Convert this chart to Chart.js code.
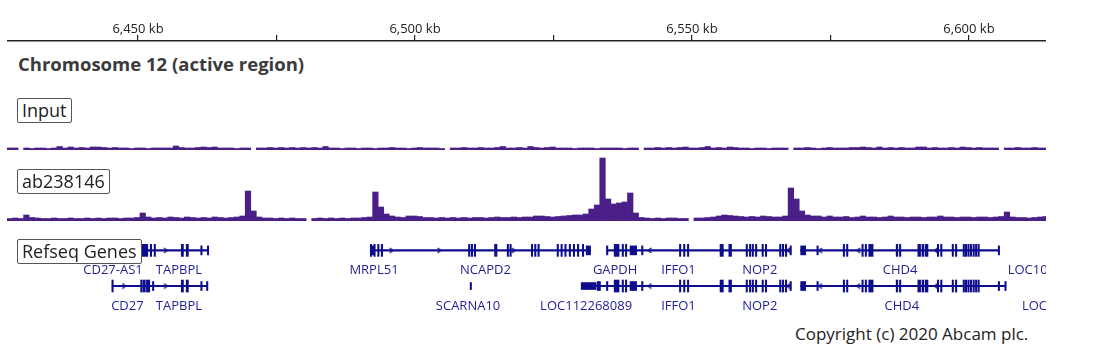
<!DOCTYPE html>
<html>
<head>
<meta charset="utf-8">
<script src="https://cdn.jsdelivr.net/npm/chart.js@4.4.1/dist/chart.umd.min.js"></script>
<style>
  body { margin: 0; background: #fff; }
  #page { position: relative; width: 1093px; height: 361px; overflow: hidden; font-family: "Open Sans", sans-serif; }
  canvas { position: absolute; left: 7px; }
  .title { position: absolute; left: 18px; top: 51px; font-weight: bold; font-size: 18.5px; color: #3b3b3b; }
  .tag { position: absolute; left: 17px; z-index: 2; background: #fff; border: 1px solid #555; border-radius: 2px;
         font-size: 18px; line-height: 23px; color: #222; padding: 0 4px; }
  .copy { position: absolute; left: 795px; top: 322px; font-size: 17px; color: #222; }
</style>
</head>
<body>
<div id="page">
  <canvas id="axis" width="1039" height="48" style="top:0"></canvas>
  <div class="title">Chromosome 12 (active region)</div>
  <div class="tag" style="top:98px">Input</div>
  <canvas id="inputTrack" width="1039" height="25" style="top:125px"></canvas>
  <div class="tag" style="top:169px">ab238146</div>
  <canvas id="abTrack" width="1039" height="71" style="top:150px"></canvas>
  <div class="tag" style="top:239px">Refseq Genes</div>
  <canvas id="genes" width="1039" height="92" style="top:228px"></canvas>
  <div class="copy">Copyright (c) 2020 Abcam plc.</div>
</div>
<script>
// visible window, kb
const xMin = 6426.35, xMax = 6613.9;
const tickValues = [6450, 6475, 6500, 6525, 6550, 6575, 6600];
const tickLabels = ['6,450 kb', '', '6,500 kb', '', '6,550 kb', '', '6,600 kb'];

// coverage, fixed step bins of 1 kb from binStart (null = no data)
const binStart = 6426.35, binSize = 1;
const inputSignal = [
  2, 2, null, 2, 1.5, 2, 2, 1.5, 2, 3.5,
  2, 3, 2, 2.5, 2, 3, 3, 2.5, 2, 2.5,
  2, 2, 1.5, 2, 2, 1.5, 2, 2, 2, 2,
  4, 2.5, 2, 2, 2.5, 3, 2.5, 3, 2, 2,
  2, 1.5, 2, 2, null, 2, 2, 2.5, 2, 2.5,
  2, 2.5, 2, 2.5, 2, 2.5, 2, 3.5, 2, 2,
  1.5, 2, 2, 1.5, 2, 2, 1.5, 2, 2, 2.5,
  2, 2, 1.5, 2, 2.5, 2, 2, 2, 1.5, null,
  2, 2, 2.5, 2, 2, 2.5, 2, 2, 2.5, 3.5,
  2, 2, 2.5, 2, 3.5, 2.5, 2, 2.5, 3, 2,
  2, 2, 1.5, 2, 2, 2, 1.5, 2, 2, 2,
  2, 1.5, 2, 2, null, 2, 2, 2.5, 2, 2.5,
  2, 2.5, 3, 2, 2, 2.5, 3.5, 2, 2.5, 2,
  3, 2.5, 2, 2, 1.5, 2, 2, 1.5, 2, 2,
  2, null, 2, 2, 2.5, 2, 1.5, 2, 2.5, 2,
  2, 2, 2.5, 2.5, 3, 2.5, 2, 3, 2, 2.5,
  2, 2.5, 2, 2, 3, 3, 2, 2.5, 2, 2,
  2.5, 2, 3, 2.5, 2, 2.5, 2, 2, 2, null,
  2, 2, 2.5, 2, 2, 2.5, 2, 2
];
const abSignal = [
  2.5, 3, 2.5, 6, 3.5, 3, 2.5, 2.5, 3, 2.5,
  2.5, 3, 2.5, 2.5, 3, 2.5, 3, 2.5, 3, 3,
  2.5, 3, 3, 3.5, 8, 4, 3, 3.5, 3, 4,
  3.5, 3, 4, 3.5, 3, 3.5, 3, 4, 3.5, 3,
  3.5, 4, 5, 30, 10, 4, 3, 3, 2.5, 3,
  2.5, 3, 2.5, 2.5, null, 2.5, 3, 2.5, 3, 2.5,
  3, 2.5, 3, 3, 3.5, 4, 29, 14, 7, 5,
  4, 3.5, 5, 5, 4.5, 3.5, 3.5, 3, 3.5, 3,
  3.5, 3, 3.5, 3, 3.5, 3.5, 3, 3.5, 4, 3.5,
  3.5, 4, 3.5, 4, 4, 5, 5, 4.5, 4, 4.5,
  5, 5.5, 6, 6, 7, 12, 16, 63, 22, 17,
  18, 19, 28, 8, 3.5, 3, 2.5, 3, 2.5, 3,
  3, 2.5, 2.5, null, 3, 3, 3.5, 4, 5, 6,
  5.5, 5, 4.5, 4, 4.5, 4, 5, 4.5, 4, 4,
  5, 33, 22, 10, 6, 5, 5, 4, 5, 4,
  4, 4.5, 3.5, 4, 5, 4, 4, 3.5, 4, 5,
  4, 4, 3.5, 4, 4, 3.5, 4, 4, 5, 4,
  4, 3.5, 4, 4, 3.5, 4, 4, 3.5, 4, 4.5,
  9, 4, 3.5, 3.5, 3, 3.5, 4, 4.5
];

// Refseq genes: [row, start kb, end kb]
const geneSpans = [
  [0, 6442.2, 6451.4], [0, 6451.4, 6462.1], [0, 6491.7, 6493.9], [0, 6493.7, 6531.8],
  [0, 6534.8, 6541.2], [0, 6541.2, 6555.4], [0, 6555.4, 6568.3], [0, 6570.1, 6606.2],
  [1, 6444.6, 6451.4], [1, 6451.4, 6461.9], [1, 6530.1, 6541.2], [1, 6541.2, 6555.4],
  [1, 6555.4, 6568.3], [1, 6570.1, 6607.4]
];
const tallExons = [
  [0, 6450.0, 6451.1], [0, 6451.55, 6451.7], [0, 6452.25, 6452.4], [0, 6457.2, 6457.6], [0, 6458.1, 6458.5],
  [0, 6491.65, 6491.85], [0, 6492.3, 6492.45], [0, 6493.0, 6493.2], [0, 6493.65, 6493.85],
  [0, 6509.55, 6509.75], [0, 6510.05, 6510.25], [0, 6510.6, 6510.8], [0, 6514.3, 6514.75],
  [0, 6516.6, 6516.8], [0, 6517.1, 6517.3], [0, 6521.0, 6521.2], [0, 6521.6, 6521.8], [0, 6522.2, 6522.4],
  [0, 6525.7, 6525.95], [0, 6526.4, 6526.65], [0, 6527.1, 6527.35], [0, 6527.9, 6528.15],
  [0, 6528.65, 6528.9], [0, 6529.4, 6529.65], [0, 6530.3, 6530.55],
  [0, 6536.1, 6537.0], [0, 6537.55, 6537.7], [0, 6538.15, 6538.3],
  [0, 6548.0, 6548.2], [0, 6548.75, 6548.95], [0, 6549.45, 6549.65],
  [0, 6555.4, 6556.0], [0, 6557.0, 6557.5], [0, 6560.15, 6560.35], [0, 6560.75, 6560.95],
  [0, 6561.25, 6561.45], [0, 6561.85, 6562.05], [0, 6563.05, 6563.3], [0, 6563.65, 6563.9],
  [0, 6566.25, 6566.45], [0, 6566.75, 6566.95], [0, 6567.3, 6567.5],
  [0, 6577.85, 6578.05], [0, 6578.45, 6578.65], [0, 6581.25, 6581.45], [0, 6581.85, 6582.05],
  [0, 6582.5, 6583.3], [0, 6587.5, 6587.8], [0, 6588.1, 6588.25], [0, 6591.45, 6591.95],
  [0, 6592.2, 6592.55], [0, 6592.8, 6593.3], [0, 6595.0, 6595.15], [0, 6595.6, 6595.75],
  [0, 6597.7, 6597.85], [0, 6598.3, 6598.45], [0, 6599.7, 6599.85], [0, 6600.1, 6600.25],
  [0, 6600.55, 6600.7], [0, 6601.0, 6601.15], [0, 6601.5, 6601.65], [0, 6601.95, 6602.1], [0, 6602.4, 6602.55],
  [1, 6444.55, 6444.7], [1, 6449.8, 6449.95], [1, 6450.2, 6450.65], [1, 6450.85, 6451.0], [1, 6451.2, 6451.35],
  [1, 6457.2, 6457.6], [1, 6458.1, 6458.5],
  [1, 6536.1, 6537.0], [1, 6537.55, 6537.7], [1, 6538.15, 6538.3],
  [1, 6548.0, 6548.2], [1, 6548.75, 6548.95], [1, 6549.45, 6549.65],
  [1, 6555.4, 6556.0], [1, 6557.0, 6557.5], [1, 6560.15, 6560.35], [1, 6560.75, 6560.95],
  [1, 6561.25, 6561.45], [1, 6561.85, 6562.05], [1, 6563.05, 6563.3], [1, 6563.65, 6563.9],
  [1, 6566.25, 6566.45], [1, 6566.75, 6566.95], [1, 6567.3, 6567.5],
  [1, 6577.85, 6578.05], [1, 6578.45, 6578.65], [1, 6581.25, 6581.45], [1, 6581.85, 6582.05],
  [1, 6582.5, 6583.3], [1, 6587.5, 6587.8], [1, 6588.1, 6588.25], [1, 6591.45, 6591.95],
  [1, 6592.2, 6592.55], [1, 6592.8, 6593.3], [1, 6595.0, 6595.15], [1, 6595.6, 6595.75],
  [1, 6597.7, 6597.85], [1, 6598.3, 6598.45], [1, 6599.7, 6599.85], [1, 6600.1, 6600.25],
  [1, 6600.55, 6600.7], [1, 6601.0, 6601.15], [1, 6601.5, 6601.65], [1, 6601.95, 6602.1], [1, 6602.4, 6602.55]
];
const midExons = [
  [0, 6460.75, 6460.9], [0, 6461.95, 6462.1], [0, 6491.85, 6492.3], [0, 6531.0, 6531.8],
  [0, 6534.7, 6534.9], [0, 6539.0, 6540.2], [0, 6541.1, 6541.25], [0, 6568.15, 6568.3],
  [0, 6570.1, 6571.0], [0, 6573.05, 6573.2], [0, 6606.1, 6606.25],
  [1, 6451.95, 6452.1], [1, 6460.75, 6460.9], [1, 6461.8, 6461.95], [1, 6533.0, 6533.6],
  [1, 6534.7, 6534.9], [1, 6539.0, 6540.2], [1, 6541.1, 6541.25], [1, 6568.15, 6568.3],
  [1, 6570.1, 6571.0], [1, 6573.05, 6573.2], [1, 6606.1, 6606.25], [1, 6607.3, 6607.45]
];
const lowExons = [[1, 6509.85, 6510.0], [1, 6530.1, 6532.8]];
const fwdMarks = [[0, 6454.33], [0, 6495.49], [0, 6504.2], [0, 6517.74], [1, 6446.75], [1, 6454.33]];
const revMarks = [[0, 6542.6], [0, 6567.87], [0, 6573.7], [0, 6580.63], [0, 6594.77],
                  [1, 6542.6], [1, 6567.87], [1, 6573.7], [1, 6580.63], [1, 6594.77]];
const geneNames = ['CD27-AS1', 'TAPBPL', 'MRPL51', 'NCAPD2', 'GAPDH', 'IFFO1', 'NOP2', 'CHD4', 'LOC105369612',
                   'CD27', 'TAPBPL', 'SCARNA10', 'LOC112268089', 'IFFO1', 'NOP2', 'CHD4', 'LOC105369612'];
const geneLabelPos = [6444.76, 6456.77, 6492.33, 6512.63, 6536.28, 6547.83, 6562.64, 6588.21, 6616.2,
                      6447.38, 6456.77, 6509.47, 6530.99, 6547.83, 6562.64, 6588.54, 6618.8];
const geneLabelRow = [0, 0, 0, 0, 0, 0, 0, 0, 0, 1, 1, 1, 1, 1, 1, 1, 1];

const purple = '#4a1f88';
const navy = '#0c0c8c';
const xScale = { type: 'linear', min: xMin, max: xMax, offset: false, display: false };
const quiet = { legend: { display: false }, tooltip: { enabled: false } };

// ruler on top
new Chart(document.getElementById('axis'), {
  type: 'scatter',
  data: { datasets: [] },
  options: {
    responsive: false, animation: false,
    layout: { padding: { top: 19, left: 0, right: 0, bottom: 0 } },
    plugins: quiet,
    scales: {
      x: {
        type: 'linear', position: 'top', min: xMin, max: xMax,
        afterBuildTicks: s => { s.ticks = tickValues.map(v => ({ value: v })); },
        afterFit: s => { s.height = 22; },
        ticks: { autoSkip: false, maxRotation: 0, padding: -2, color: '#222',
                 font: { family: 'Open Sans', size: 13 },
                 callback: (v, i) => tickLabels[i] },
        grid: { drawOnChartArea: false, tickLength: 6, color: '#222', lineWidth: 1.2 },
        border: { color: '#222', width: 1.5 }
      },
      y: { display: false }
    }
  }
});

function trackChart(id, values, top) {
  return new Chart(document.getElementById(id), {
    type: 'bar',
    data: { datasets: [{
      data: values.map((v, i) => ({ x: binStart + (i + 0.5) * binSize, y: v })),
      backgroundColor: purple, borderWidth: 0, barPercentage: 1, categoryPercentage: 1
    }] },
    options: {
      responsive: false, animation: false, layout: { padding: 0 }, plugins: quiet,
      scales: { x: xScale, y: { min: 0, max: top, display: false } }
    }
  });
}
trackChart('inputTrack', inputSignal, 25);
trackChart('abTrack', abSignal, 71);

function chevron(dir) {
  const c = document.createElement('canvas');
  c.width = 6; c.height = 7;
  const g = c.getContext('2d');
  g.strokeStyle = navy; g.lineWidth = 1.3;
  g.beginPath();
  if (dir > 0) { g.moveTo(1.5, 1); g.lineTo(4.5, 3.5); g.lineTo(1.5, 6); }
  else { g.moveTo(4.5, 1); g.lineTo(1.5, 3.5); g.lineTo(4.5, 6); }
  g.stroke();
  return c;
}
const bars = (list, h) => ({
  indexAxis: 'y', data: list.map(([r, s, e]) => ({ x: [s, e], y: r })),
  backgroundColor: navy, borderWidth: 0, barThickness: h, grouped: false, minBarLength: 1.4
});
const marks = (list, img) => ({
  type: 'scatter', data: list.map(([r, p]) => ({ x: p, y: r })), pointStyle: img
});

const geneLabels = {
  id: 'geneLabels',
  afterDatasetsDraw(chart) {
    const { ctx, scales: { x, y } } = chart;
    ctx.save();
    ctx.font = '13px "Open Sans"';
    ctx.fillStyle = '#1f1f95';
    ctx.textAlign = 'center';
    ctx.textBaseline = 'middle';
    geneNames.forEach((name, i) => {
      ctx.fillText(name, x.getPixelForValue(geneLabelPos[i]), y.getPixelForValue(geneLabelRow[i]) + 20);
    });
    ctx.restore();
  }
};

new Chart(document.getElementById('genes'), {
  type: 'bar',
  data: { datasets: [
    bars(geneSpans, 1.5), bars(lowExons, 7), bars(midExons, 9), bars(tallExons, 12),
    marks(fwdMarks, chevron(1)), marks(revMarks, chevron(-1))
  ] },
  options: {
    responsive: false, animation: false, layout: { padding: 0 }, plugins: quiet,
    scales: {
      x: xScale,
      y: { type: 'linear', reverse: true, min: -0.4875, max: 1.8125, offset: false, display: false }
    }
  },
  plugins: [geneLabels]
});
</script>
</body>
</html>
